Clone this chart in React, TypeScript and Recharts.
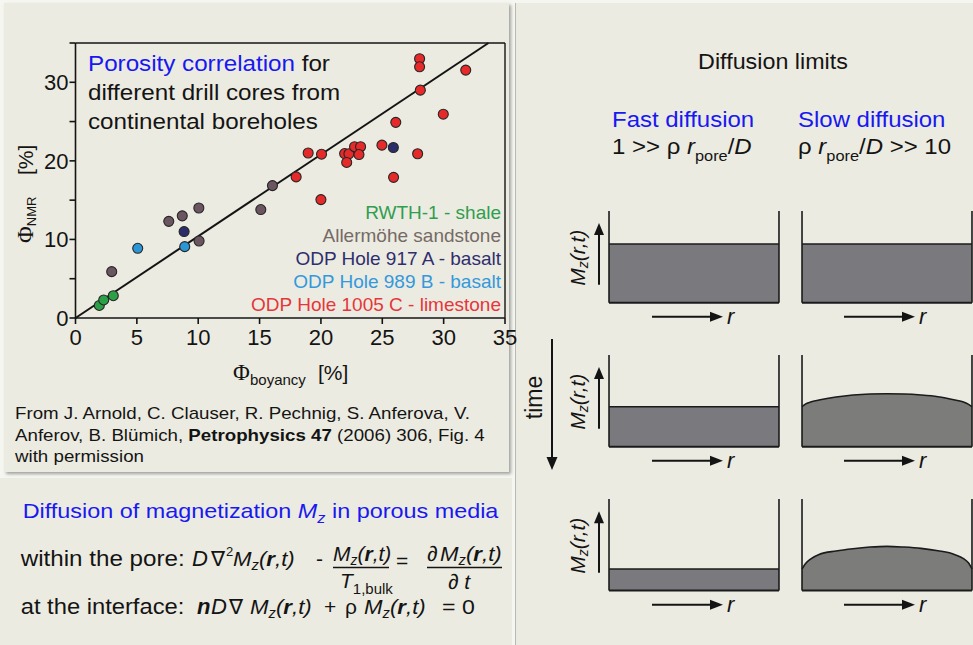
import React from 'react';
import {
  ScatterChart,
  Scatter,
  XAxis,
  YAxis,
  ReferenceLine,
  AreaChart,
  Area,
} from 'recharts';

const FONT = '"Liberation Sans", Arial, "DejaVu Sans", sans-serif';
const SERIF = '"Liberation Serif", "Times New Roman", "DejaVu Serif", serif';
const BEIGE = '#ecebe1';
const INK = '#141414';
const BLUE = '#1818f2';

// Porosity pairs: x = buoyancy porosity [%], y = NMR porosity [%]
const rwthShale = [
  { x: 1.94, y: 1.6 },
  { x: 2.3, y: 2.3 },
  { x: 3.08, y: 2.84 },
];
const allermoeheSandstone = [
  { x: 2.95, y: 5.9 },
  { x: 7.6, y: 12.3 },
  { x: 8.7, y: 13.0 },
  { x: 10.05, y: 14.0 },
  { x: 10.07, y: 9.8 },
  { x: 15.1, y: 13.8 },
  { x: 16.05, y: 16.85 },
];
const odp917Basalt = [
  { x: 8.85, y: 11.0 },
  { x: 25.9, y: 21.7 },
];
const odp989Basalt = [
  { x: 5.07, y: 8.87 },
  { x: 8.9, y: 9.08 },
];
const odp1005Limestone = [
  { x: 28.04, y: 33.0 },
  { x: 28.04, y: 31.97 },
  { x: 31.8, y: 31.55 },
  { x: 28.1, y: 29.0 },
  { x: 29.97, y: 25.94 },
  { x: 26.1, y: 24.9 },
  { x: 18.96, y: 21.0 },
  { x: 20.05, y: 20.85 },
  { x: 17.98, y: 17.96 },
  { x: 20.0, y: 15.07 },
  { x: 21.93, y: 20.93 },
  { x: 22.28, y: 20.9 },
  { x: 22.1, y: 19.8 },
  { x: 22.74, y: 21.8 },
  { x: 23.23, y: 21.8 },
  { x: 23.1, y: 20.8 },
  { x: 24.97, y: 22.0 },
  { x: 27.88, y: 20.9 },
  { x: 25.92, y: 17.9 },
];
const fitLine = [
  { x: 0, y: 0 },
  { x: 33.65, y: 35 },
];
const axisTicks = [0, 5, 10, 15, 20, 25, 30, 35];
const yLabelledTicks = [0, 10, 20, 30];

const legendNames = [
  'RWTH-1 - shale',
  'Allermöhe sandstone',
  'ODP Hole 917 A - basalt',
  'ODP Hole 989 B - basalt',
  'ODP Hole 1005 C - limestone',
];
const legendTextColors = ['#2f9e4f', '#756a66', '#2f2e6e', '#3399dc', '#e6363a'];
const dotColors = ['#2ba046', '#6a5560', '#2c2c6b', '#2a96d6', '#e62a2a'];
const seriesData = [rwthShale, allermoeheSandstone, odp917Basalt, odp989Basalt, odp1005Limestone];

// Magnetization profiles M_z(r) across the pore, relative to the wall height
const rGrid = [0, 0.02, 0.05, 0.1, 0.2, 0.3, 0.4, 0.5, 0.6, 0.7, 0.8, 0.9, 0.95, 0.98, 1];
const fastLevels = [0.64, 0.436, 0.234];
const slowStart = [0.64, 0.64, 0.64, 0.64, 0.64, 0.64, 0.64, 0.64, 0.64, 0.64, 0.64, 0.64, 0.64, 0.64, 0.64];
const slowMid = [0.436, 0.465, 0.487, 0.509, 0.542, 0.564, 0.575, 0.578, 0.575, 0.564, 0.545, 0.509, 0.487, 0.462, 0.436];
const slowLate = [0.234, 0.292, 0.343, 0.394, 0.431, 0.456, 0.474, 0.482, 0.474, 0.46, 0.434, 0.391, 0.347, 0.299, 0.234];
const slowProfiles = [slowStart, slowMid, slowLate];

// Pore box geometry for the three time steps
const rowWallTop = [211, 355, 499.3];
const rowBottom = [302.7, 446.7, 590.7];
const fastLeft = 609;
const slowLeft = 801.7;
const boxWidth = 170;

type TProps = {
  x: number;
  y: number;
  size: number;
  sx?: number;
  anchor?: 'start' | 'middle' | 'end';
  fill?: string;
  italic?: boolean;
  bold?: boolean;
  family?: string;
  children?: React.ReactNode;
};

const T = ({ x, y, size, sx = 1, anchor = 'start', fill = INK, italic, bold, family = FONT, children }: TProps) => (
  <text
    transform={`translate(${x} ${y}) scale(${sx} 1)`}
    x={0}
    y={0}
    fontSize={size}
    fontFamily={family}
    textAnchor={anchor}
    fill={fill}
    fontStyle={italic ? 'italic' : 'normal'}
    fontWeight={bold ? 'bold' : 'normal'}
  >
    {children}
  </text>
);

const Mzrt = ({ x, y, size = 21, sx = 1.12 }: { x: number; y: number; size?: number; sx?: number }) => (
  <T x={x} y={y} size={size} sx={sx} italic>
    M
    <tspan fontSize={size * 0.66} dy={4}>z</tspan>
    <tspan dy={-4}>(</tspan>
    <tspan fontWeight="bold">r</tspan>
    <tspan>,t)</tspan>
  </T>
);

const Arrow = ({ x1, y1, x2, y2, head = 12, hw = 5, w = 2 }: any) => {
  const dx = x2 - x1;
  const dy = y2 - y1;
  const len = Math.hypot(dx, dy);
  const ux = dx / len;
  const uy = dy / len;
  const bx = x2 - ux * head;
  const by = y2 - uy * head;
  const px = -uy;
  const py = ux;
  return (
    <g>
      <line x1={x1} y1={y1} x2={bx + ux} y2={by + uy} stroke={INK} strokeWidth={w} />
      <polygon
        points={`${x2},${y2} ${bx + px * hw},${by + py * hw} ${bx - px * hw},${by - py * hw}`}
        fill={INK}
      />
    </g>
  );
};

const XTick = (props: any) => {
  const { x, y, payload } = props;
  return (
    <text x={x} y={y + 19} textAnchor="middle" fontSize={22} fontFamily={FONT} fill={INK}>
      {payload.value}
    </text>
  );
};

const YTick = (props: any) => {
  const { x, y, payload } = props;
  if (!yLabelledTicks.includes(payload.value)) return <g />;
  return (
    <text x={x + 1} y={y + 8} textAnchor="end" fontSize={22} fontFamily={FONT} fill={INK}>
      {payload.value}
    </text>
  );
};

const dotShape = (color: string) => (p: any) => (
  <circle cx={p.cx} cy={p.cy} r={5} fill={color} stroke="#262626" strokeWidth={1.1} />
);

const PorePanel = ({ left, top, bottom, data, fill }: any) => {
  const h = bottom - top;
  return (
    <div style={{ position: 'absolute', left: left - 2, top: top - 2 }}>
      <AreaChart
        width={boxWidth + 4}
        height={h + 4}
        data={data}
        margin={{ top: 2, right: 2, bottom: 2, left: 2 }}
      >
        <XAxis type="number" dataKey="r" domain={[0, 1]} hide />
        <YAxis type="number" domain={[0, 1]} hide />
        <Area
          type="monotone"
          dataKey="m"
          stroke="#1b1b1b"
          strokeWidth={1.6}
          fill={fill}
          fillOpacity={1}
          dot={false}
          activeDot={false}
          isAnimationActive={false}
        />
        <ReferenceLine x={0} stroke="#1b1b1b" strokeWidth={1.6} />
        <ReferenceLine x={1} stroke="#1b1b1b" strokeWidth={1.6} />
        <ReferenceLine y={0} stroke="#1b1b1b" strokeWidth={2} />
      </AreaChart>
    </div>
  );
};

export default function App() {
  return (
    <div
      style={{
        position: 'absolute',
        left: 0,
        top: 0,
        width: 973,
        height: 645,
        background: '#f6f6f1',
        overflow: 'hidden',
        fontFamily: FONT,
      }}
    >
      {/* slide panels */}
      <div
        style={{
          position: 'absolute',
          left: 4,
          top: 3,
          width: 505,
          height: 469,
          background: BEIGE,
          boxShadow: '2px 2px 3px rgba(0,0,0,0.35)',
        }}
      />
      <div style={{ position: 'absolute', left: 0, top: 478, width: 512, height: 167, background: BEIGE }} />
      <div
        style={{
          position: 'absolute',
          left: 515,
          top: 3,
          width: 458,
          height: 642,
          background: BEIGE,
          borderLeft: '1px solid #b9b9b1',
        }}
      />

      {/* porosity scatter */}
      <div style={{ position: 'absolute', left: 0, top: 0 }}>
        <ScatterChart width={520} height={362} margin={{ top: 43, right: 15, left: 15.5, bottom: 4 }}>
          <XAxis
            type="number"
            dataKey="x"
            domain={[0, 35]}
            ticks={axisTicks}
            height={40}
            tickSize={6}
            tickMargin={2}
            axisLine={{ stroke: INK, strokeWidth: 1.6 }}
            tickLine={{ stroke: INK, strokeWidth: 1.6 }}
            tick={<XTick />}
            interval={0}
          />
          <YAxis
            type="number"
            dataKey="y"
            domain={[0, 35]}
            ticks={axisTicks}
            width={60}
            tickSize={6}
            tickMargin={2}
            axisLine={{ stroke: INK, strokeWidth: 1.6 }}
            tickLine={{ stroke: INK, strokeWidth: 1.6 }}
            tick={<YTick />}
            interval={0}
          />
          <ReferenceLine y={35} stroke={INK} strokeWidth={1.4} />
          <ReferenceLine x={35} stroke={INK} strokeWidth={1.4} />
          <ReferenceLine segment={fitLine} stroke={INK} strokeWidth={2} />
          {seriesData.map((d, i) => (
            <Scatter
              key={legendNames[i]}
              name={legendNames[i]}
              data={d}
              shape={dotShape(dotColors[i])}
              isAnimationActive={false}
            />
          ))}
        </ScatterChart>
      </div>

      {/* pore profiles: fast diffusion (left) and slow diffusion (right) */}
      {fastLevels.map((lvl, i) => (
        <PorePanel
          key={`fast-${i}`}
          left={fastLeft}
          top={rowWallTop[i]}
          bottom={rowBottom[i]}
          data={[
            { r: 0, m: lvl },
            { r: 1, m: lvl },
          ]}
          fill="#7a797e"
        />
      ))}
      {slowProfiles.map((prof, i) => (
        <PorePanel
          key={`slow-${i}`}
          left={slowLeft}
          top={rowWallTop[i]}
          bottom={rowBottom[i]}
          data={rGrid.map((r, j) => ({ r, m: prof[j] }))}
          fill={i === 0 ? '#7a797e' : '#7c7d7b'}
        />
      ))}

      {/* text and annotation layer */}
      <svg
        width={973}
        height={645}
        style={{ position: 'absolute', left: 0, top: 0, pointerEvents: 'none' }}
      >
        {/* scatter title */}
        <T x={88} y={71} size={22} sx={1.1}>
          <tspan fill={BLUE}>Porosity correlation</tspan>
          <tspan> for</tspan>
        </T>
        <T x={88} y={100} size={22} sx={1.1}>different drill cores from</T>
        <T x={88} y={129} size={22} sx={1.1}>continental boreholes</T>

        {/* legend */}
        {legendNames.map((n, i) => (
          <T key={n} x={501} y={219 + i * 22.9} size={19} anchor="end" fill={legendTextColors[i]}>
            {n}
          </T>
        ))}

        {/* axis titles */}
        <g transform="translate(33 243) rotate(-90)">
          <text fontFamily={FONT} fill={INK}>
            <tspan fontFamily={SERIF} fontSize={23}>Φ</tspan>
            <tspan fontSize={13} dy={3}>NMR</tspan>
            <tspan x={68} dy={-3} fontSize={21}>[%]</tspan>
          </text>
        </g>
        <T x={233} y={380} size={23} family={SERIF}>Φ</T>
        <T x={250} y={385} size={15}>boyancy</T>
        <T x={318} y={380} size={21}>[%]</T>

        {/* citation */}
        <T x={15} y={419} size={16} sx={1.17}>From J. Arnold, C. Clauser, R. Pechnig, S. Anferova, V.</T>
        <T x={15} y={441} size={16} sx={1.17}>
          Anferov, B. Blümich, <tspan fontWeight="bold">Petrophysics 47</tspan> (2006) 306, Fig. 4
        </T>
        <T x={15} y={462} size={16} sx={1.17}>with permission</T>

        {/* diffusion equations */}
        <T x={22.7} y={517.5} size={20} sx={1.17} fill={BLUE}>
          Diffusion of magnetization{' '}
          <tspan fontStyle="italic">M</tspan>
          <tspan fontStyle="italic" fontSize={14} dy={5}>z</tspan>
          <tspan dy={-5}> in porous media</tspan>
        </T>

        <T x={20.7} y={566} size={22} sx={1.1}>within the pore:</T>
        <T x={192} y={566} size={22} italic>D</T>
        <T x={211} y={566} size={21}>∇</T>
        <T x={226} y={556} size={13}>2</T>
        <Mzrt x={233} y={566} sx={1.06} />
        <T x={316} y={566} size={21}>-</T>
        <Mzrt x={333} y={561} sx={1.0} />
        <line x1={333} x2={389} y1={567.5} y2={567.5} stroke={INK} strokeWidth={1.3} />
        <T x={340} y={588} size={21} italic>
          T<tspan fontStyle="normal" fontSize={15} dy={6}>1,bulk</tspan>
        </T>
        <T x={396} y={568} size={21}>=</T>
        <T x={427} y={561} size={21}>∂</T>
        <Mzrt x={440} y={561} sx={1.06} />
        <line x1={427} x2={502} y1={567.5} y2={567.5} stroke={INK} strokeWidth={1.3} />
        <T x={448} y={589} size={21}>
          ∂ <tspan fontStyle="italic">t</tspan>
        </T>

        <T x={20.7} y={614} size={22} sx={1.08}>at the interface:</T>
        <T x={197} y={614} size={22} italic bold>n</T>
        <T x={211} y={614} size={22} italic>D</T>
        <T x={229} y={614} size={21}>∇</T>
        <Mzrt x={250} y={614} sx={1.06} />
        <T x={324} y={614} size={21}>+</T>
        <T x={345} y={614} size={21}>ρ</T>
        <Mzrt x={364} y={614} sx={1.06} />
        <T x={442} y={614} size={21} sx={1.1}>= 0</T>

        {/* diffusion limits header */}
        <T x={773} y={69} size={22} sx={1.06} anchor="middle">Diffusion limits</T>
        <T x={612} y={127} size={22} sx={1.09} fill={BLUE}>Fast diffusion</T>
        <T x={798} y={127} size={22} sx={1.09} fill={BLUE}>Slow diffusion</T>
        <T x={612} y={154} size={22} sx={1.09}>
          1 {'>>'} ρ <tspan fontStyle="italic">r</tspan>
          <tspan fontSize={15} dy={7}>pore</tspan>
          <tspan dy={-7}>/</tspan>
          <tspan fontStyle="italic">D</tspan>
        </T>
        <T x={798} y={154} size={22} sx={1.09}>
          ρ <tspan fontStyle="italic">r</tspan>
          <tspan fontSize={15} dy={7}>pore</tspan>
          <tspan dy={-7}>/</tspan>
          <tspan fontStyle="italic">D</tspan> {'>>'} 10
        </T>

        {/* time axis */}
        <Arrow x1={552} y1={339} x2={552} y2={470} head={13} hw={5.5} />
        <g transform="translate(542 397.5) rotate(-90)">
          <text fontSize={23} fontFamily={FONT} fill={INK} textAnchor="middle">time</text>
        </g>

        {/* M_z axes and r axes per time step */}
        {rowWallTop.map((top, i) => {
          const bottom = rowBottom[i];
          const ry = bottom + 14;
          return (
            <g key={`ann-${i}`}>
              <Arrow x1={599} y1={bottom - 18} x2={599} y2={top + 12} head={12} hw={5} />
              <g transform={`translate(585 ${bottom - 17}) rotate(-90)`}>
                <text fontSize={21} fontFamily={FONT} fill={INK} fontStyle="italic">
                  M<tspan fontSize={14} dy={3}>z</tspan>
                  <tspan dy={-3}>(r,t)</tspan>
                </text>
              </g>
              <Arrow x1={652} y1={ry} x2={723} y2={ry} head={13} hw={5} />
              <T x={727} y={ry + 7} size={22} italic>r</T>
              <Arrow x1={844} y1={ry} x2={915} y2={ry} head={13} hw={5} />
              <T x={919} y={ry + 7} size={22} italic>r</T>
            </g>
          );
        })}
      </svg>
    </div>
  );
}
